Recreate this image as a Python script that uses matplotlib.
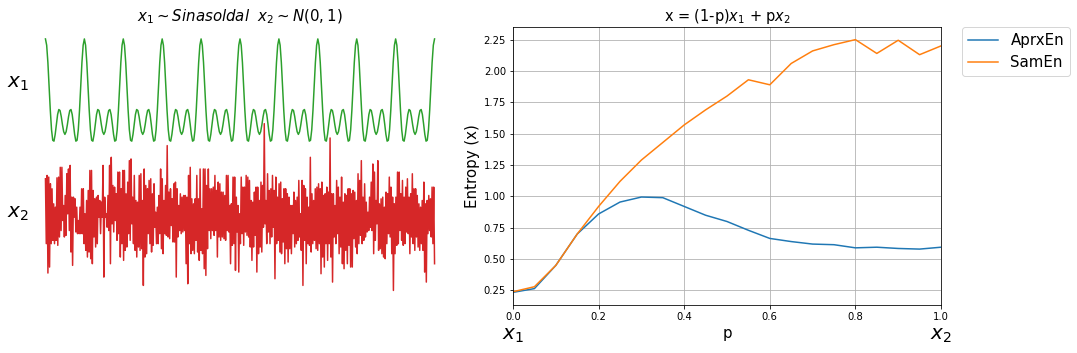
import matplotlib

matplotlib.use("Agg")
import matplotlib.pyplot as plt
import numpy as np

# ── left panel: the two source signals ──
# one period of x1 (sinusoidal); it repeats 10 times
X1_PERIOD = [3.0, 2.736, 2.014, 1.019, 0.0, -0.808, -1.248, -1.284,
             -1.0, -0.563, -0.166, 0.042, 0.0, -0.254, -0.6, -0.888,
             -1.0, -0.888, -0.6, -0.254, 0.0, 0.042, -0.166, -0.563,
             -1.0, -1.284, -1.248, -0.808, 0.0, 1.019, 2.014, 2.736]
N_PERIODS = 10

# x2 ~ N(0,1), estimated from the picture as alternating highs / lows
X2 = [
    1.44, -1.28, 1.58, -2.51, 1.51, -2.26, 1.23, -1.28, 1.02, -1.14, 0.39, -1.28, 0.25, -1.14, 1.48, -1.35,
    1.51, -1.0, 1.92, -0.73, 1.92, -0.31, 0.32, -1.0, 0.74, -0.93, 1.65, -0.03, 1.85, -0.73, 2.0, -1.63,
    0.67, -2.19, 0.67, -0.17, 0.6, -0.79, 0.25, -0.86, -0.31, -0.86, 0.25, -0.86, 1.02, -0.86, 1.02, -1.28,
    -0.03, -1.56, 0.53, -1.84, 0.95, -1.63, 1.79, -1.91, 1.79, -2.12, 0.95, -1.0, 0.6, -1.42, 0.67, -1.28,
    0.74, -0.17, 0.53, -0.86, 0.46, -0.17, 2.0, -2.68, 0.67, -0.17, -0.03, -0.59,
    0.74, -0.73, 2.0, -2.12, 2.34, -0.45, 1.16, -0.79, 1.09, -0.31, 0.81, -1.14, 1.72, -0.86, 1.72, -1.84,
    1.02, -1.28, 1.79, -1.98, 1.79, -1.56, 0.81, -1.42, 1.3, -0.86, 2.2, -1.14, 2.27, -0.45, 0.67, -1.28,
    1.58, -1.56, 0.53, -1.84, 0.46, -1.42, 1.58, -1.56, 1.65, -1.49, 0.53, -3.03, 1.85, -1.84, 1.16, -1.7,
    1.02, -0.86, 1.37, -1.28, 1.44, -1.63, 0.81, -1.35, 1.23, -0.59, 0.04, -1.28, 0.25, -1.28, 0.74, -0.86,
    1.85, -1.49, 1.44, -1.7, 0.53, -0.86, 1.16, -0.93, 2.83, -1.0, 0.88, -1.07, 1.02, -0.52, 0.6, -1.21,
    1.23, -1.21, 1.3, -2.68, 1.02, -1.0, 0.32, -0.73, 0.81, -0.86, 0.67, -0.79, 0.74, -0.73, 0.74, -2.12,
    0.67, -2.96, 1.58, -1.28, 1.92, -1.7, 0.6, -1.56, 0.39, -1.7, 0.6, -1.14, 1.58, -1.63, 0.6, -1.98,
    1.85, -1.56, 0.18, -1.7, 1.85, -2.33, 1.85, -2.61, 1.16, -1.49, 1.85, -0.73, 1.02, -1.07, 1.02, -0.73,
    1.09, -0.93, 1.58, -0.73, 0.95, -1.84, 1.3, -1.0, 1.23, -1.14, 0.88, -1.0, 0.88, -1.07, 0.74, -1.14,
    1.58, -0.73, 1.58, -0.79, 0.32, -2.12, 0.39, -1.35, 1.51, -1.28, 1.51, -2.4, 0.67, -0.79,
    0.32, -2.47, -0.03, -1.28, 1.51, -0.86, 1.09, -1.35, 1.09, -0.79, 1.58, -0.93, 1.51, -1.0, 1.37, -1.42,
    0.53, -1.98, 0.46, -1.42, 0.88, -0.93, 1.09, -2.47, 1.09, -1.7, 0.53, -1.42, 1.3, -1.63, 1.16, -0.59,
    3.75, -0.45, 0.53, -1.28, 1.65, -0.79, 0.95, -1.28, 1.02, -1.0, 1.58, -0.59, 0.95, -2.75, 1.51, -1.28,
    0.67, -1.14, 1.23, -1.63, 1.3, -1.7, 0.6, -1.21, 1.02, -2.12, 1.02, -1.49, 0.81, -2.05, 0.67, -1.49,
    0.32, -1.7, 0.32, -0.86, 0.88, -1.42, 0.53, -1.28, 0.67, -1.14, 1.37, -1.0, -0.03, -1.56, 1.37, -3.03,
    1.16, -1.14, 1.02, -2.12, 0.67, -1.28, 0.25, -1.35, 2.34, -1.63, 0.81, -1.28, 0.53, -1.14, 1.02, -1.49,
    1.09, -1.56, 1.23, -1.28, 1.02, -2.54, 1.3, -1.84, 0.74, -2.26, 0.81, -1.28, 1.09, -1.98, 0.88, -1.28,
    3.15, -1.84, 0.81, -2.89, 0.81, -1.0, 0.32, -1.28, 1.37, -0.86, 1.09, -1.7, 0.67, -1.42, 1.51, -2.12,
    0.46, -2.33, 0.81, -1.56, 0.74, -2.12, 1.02, -1.35, 1.02, -2.26, 0.81, -2.26, 0.95, -1.07, 0.88, -1.42,
    0.53, -1.7, 1.65, -1.28, 1.37, -0.93, 2.2, -1.28, 0.67, -1.14, 1.23, -1.0, 0.46, -0.79, 0.04, -0.73,
    0.67, -0.59, 1.3, -0.73, 2.06, -1.7, 1.72, -1.14, 0.53, -0.45, 2.2, -1.56, 0.39, -1.49, 0.6, -1.7,
    0.67, -1.84, 0.25, -1.91, 0.88, -1.28, 0.81, -0.86, 1.51, -1.0, 1.09, -1.7, 0.67, -3.24, 0.39, -1.7,
    0.67, -1.35, 1.72, -1.28, 1.72, -0.73, 0.81, -1.14, 1.37, -1.35, 0.67, -1.28, 1.09, -0.79, 1.44, -0.86,
    0.67, -1.7, 0.81, -1.0, 1.65, -1.28, 1.02, -1.56, 1.02, -1.0, 0.74, -1.42, 0.39, -1.56, 0.25, -1.28,
    0.53, -1.56, 1.3, -2.47, 0.39, -2.89, 0.53, -0.86, 0.74, -0.73, 0.6, -1.0, 1.09, -1.28, 1.09, -2.12,
]
X2_OFFSET = 4.3

# ── right panel: entropy vs mixing weight p ──
P = [0.0, 0.05, 0.1, 0.15, 0.2, 0.25, 0.3, 0.35, 0.4, 0.45, 0.5,
     0.55, 0.6, 0.65, 0.7, 0.75, 0.8, 0.85, 0.9, 0.95, 1.0]
APRX_EN = [0.235, 0.265, 0.45, 0.70, 0.86, 0.955, 0.995, 0.99, 0.92, 0.85, 0.80,
           0.73, 0.665, 0.64, 0.62, 0.615, 0.59, 0.595, 0.585, 0.58, 0.595]
SAM_EN = [0.24, 0.28, 0.45, 0.70, 0.92, 1.12, 1.29, 1.43, 1.57, 1.69, 1.80,
          1.93, 1.89, 2.06, 2.16, 2.21, 2.25, 2.14, 2.245, 2.13, 2.20]

W, H, DPI = 1077, 353, 72
fig = plt.figure(figsize=(W / DPI, H / DPI), dpi=DPI)
fig.patch.set_facecolor("white")

# left: raw signals stacked on one invisible axis
ax1 = fig.add_axes([26 / W, 48 / H, 428 / W, 278 / H])
x1 = X1_PERIOD * N_PERIODS + [X1_PERIOD[0]]
ax1.plot(np.linspace(0, 1, len(x1)), x1, color="tab:green", lw=1.5)
ax1.plot(np.linspace(0, 1, len(X2)), np.array(X2) - X2_OFFSET, color="tab:red", lw=1.5)
ax1.set_ylim(-8.15, 3.5)
ax1.set_xticks([])
ax1.set_yticks([])
for s in ax1.spines.values():
    s.set_visible(False)
ytr = ax1.get_yaxis_transform()
ax1.text(-0.019, 1.13, "$x_1$", transform=ytr, fontsize=20, ha="center", va="center")
ax1.text(-0.019, -X2_OFFSET, "$x_2$", transform=ytr, fontsize=20, ha="center", va="center")
ax1.set_title(r"$x_1 \sim Sinasoldal$  $x_2 \sim N(0,1)$", fontsize=15)

# right: entropy curves
ax2 = fig.add_axes([513 / W, 48 / H, 428 / W, 278 / H])
ax2.plot(P, APRX_EN, label="AprxEn")
ax2.plot(P, SAM_EN, label="SamEn")
ax2.set_xlim(0, 1)
ax2.grid(True)
ax2.set_xlabel("p", fontsize=15)
ax2.set_ylabel("Entropy (x)", fontsize=15)
ax2.set_title("x = (1-p)$x_1$ + p$x_2$", fontsize=14.5)
ax2.text(0, -0.108, "$x_1$", transform=ax2.transAxes, fontsize=20, ha="center", va="center")
ax2.text(1, -0.108, "$x_2$", transform=ax2.transAxes, fontsize=20, ha="center", va="center")
ax2.legend(bbox_to_anchor=(1.05, 1), loc=2, borderaxespad=0, fontsize=15)

fig.savefig("out.png", dpi=DPI)
